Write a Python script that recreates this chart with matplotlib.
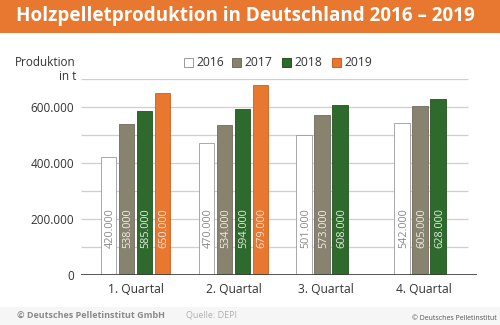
import matplotlib
matplotlib.use("Agg")
import matplotlib.pyplot as plt
import numpy as np
from matplotlib.patches import Rectangle

quarters = ["1. Quartal", "2. Quartal", "3. Quartal", "4. Quartal"]
years = ["2016", "2017", "2018", "2019"]
v2016 = [420000, 470000, 501000, 542000]
v2017 = [538000, 534000, 573000, 605000]
v2018 = [585000, 594000, 608000, 628000]
v2019 = [650000, 679000, None, None]
series = [v2016, v2017, v2018, v2019]

fills = ["#ffffff", "#87836f", "#2f6a2d", "#e8772f"]
edges = ["#9a9a9a", "#6f6c5e", "#22521f", "#c95f1f"]
text_cols = ["#8a8a8a", "#f0eee6", "#e2ecdf", "#fbe6d8"]

plt.rcParams["font.family"] = ["Open Sans", "DejaVu Sans"]

fig = plt.figure(figsize=(5, 3.25), dpi=100)
fig.patch.set_facecolor("white")

# title band
fig.add_artist(Rectangle((0, 1 - 33 / 325), 1, 33 / 325, transform=fig.transFigure,
                         facecolor="#e8772f", edgecolor="none", zorder=0))
fig.text(16 / 500, 1 - 16 / 325, "Holzpelletproduktion in Deutschland 2016 – 2019",
         color="white", fontsize=13.6, fontweight="bold", va="center", ha="left")

ax = fig.add_axes([81 / 500, 1 - 275 / 325, (477 - 81) / 500, (275 - 79) / 325])
ax.set_xlim(-0.558, 3.49)
ax.set_ylim(0, 700000)

width = 0.16
step = 0.184
offsets = [-1.5 * step, -0.5 * step, 0.5 * step, 1.5 * step]
x = np.arange(len(quarters))

# horizontal grid
for g in range(100000, 700001, 100000):
    ax.hlines(g, -0.558, 3.40, color="#cfcfcf", lw=0.9, zorder=0)

for i, vals in enumerate(series):
    for j, v in enumerate(vals):
        if v is None:
            continue
        xc = x[j] + offsets[i]
        ax.bar(xc, v, width=width, color=fills[i], edgecolor=edges[i],
               linewidth=0.6, zorder=2)
        label = f"{v // 1000}.{v % 1000:03d}"
        ax.text(xc, 96000, label, rotation=90, rotation_mode="anchor",
                ha="left", va="center_baseline", fontsize=7.8,
                color=text_cols[i], zorder=3)

ax.axhline(0, color="#3a3a3a", lw=1.2, zorder=4)

for s in ax.spines.values():
    s.set_visible(False)
ax.set_yticks([0, 200000, 400000, 600000])
ax.set_yticklabels(["0", "200.000", "400.000", "600.000"])
ax.tick_params(axis="y", length=0, pad=5, labelsize=8.5, labelcolor="#333333")
ax.set_xticks(x + np.array([0, 0, -0.05, -0.05]))
ax.set_xticklabels(quarters)
ax.tick_params(axis="x", length=0, pad=6, labelsize=8.7, labelcolor="#333333")

fig.text(76 / 500, 1 - 62 / 325, "Produktion", ha="right", va="center",
         fontsize=8.5, color="#333333")
fig.text(76 / 500, 1 - 77 / 325, "in t", ha="right", va="center",
         fontsize=8.5, color="#333333")

# legend
leg_x = [184, 232, 282, 332]
for i, yr in enumerate(years):
    fig.add_artist(Rectangle((leg_x[i] / 500, 1 - 67 / 325), 9 / 500, 9 / 325,
                             transform=fig.transFigure, facecolor=fills[i],
                             edgecolor=edges[i], lw=0.7))
    fig.text((leg_x[i] + 12) / 500, 1 - 62 / 325, yr, ha="left", va="center",
             fontsize=8.7, color="#333333")

# footer
fig.add_artist(Rectangle((0, 0), 1, 18 / 325, transform=fig.transFigure,
                         facecolor="#f6f6f6", edgecolor="none", zorder=0))
fig.text(17 / 500, 1 - 315 / 325, "© Deutsches Pelletinstitut GmbH", ha="left",
         va="center", fontsize=6.5, color="#8a8a8a", fontweight="bold")
fig.text(186 / 500, 1 - 315 / 325, "Quelle: DEPI", ha="left", va="center",
         fontsize=6.5, color="#b0b0b0")
fig.text(497 / 500, 1 - 319 / 325, "© Deutsches Pelletinstitut", ha="right",
         va="center", fontsize=5, color="#555555")

fig.savefig("out.png", dpi=100)
